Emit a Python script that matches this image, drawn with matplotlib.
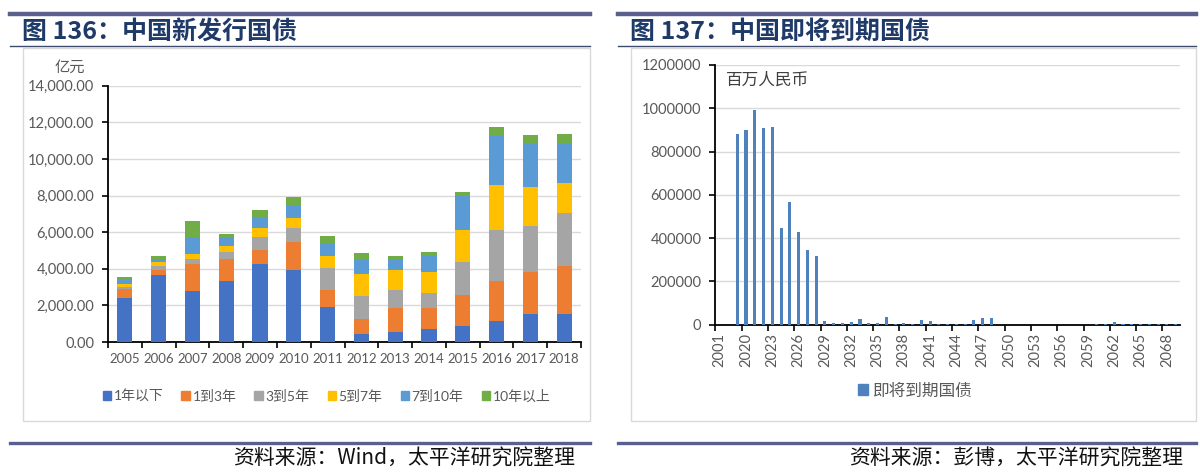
import matplotlib
matplotlib.use("Agg")
import matplotlib.pyplot as plt
from matplotlib.patches import Patch, Rectangle
from matplotlib.lines import Line2D
from matplotlib.ticker import FuncFormatter
import numpy as np

plt.rcParams['font.family'] = ['Lato', 'Noto Sans CJK SC', 'DejaVu Sans']

# ---- left chart data: new issuance by maturity (亿元)
years_l = ['2005', '2006', '2007', '2008', '2009', '2010', '2011',
           '2012', '2013', '2014', '2015', '2016', '2017', '2018']
series_names = ['1年以下', '1到3年', '3到5年', '5到7年', '7到10年', '10年以上']
under_1y = [2400, 3650, 2790, 3340, 4250, 3960, 1890, 440, 530, 710, 890, 1160, 1530, 1530]
y1_3 = [470, 310, 1460, 1180, 800, 1480, 950, 800, 1310, 1150, 1670, 2180, 2310, 2640]
y3_5 = [140, 200, 290, 400, 690, 760, 1180, 1270, 1020, 800, 1820, 2800, 2490, 2850]
y5_7 = [150, 200, 290, 330, 460, 600, 690, 1200, 1070, 1180, 1730, 2420, 2150, 1640]
y7_10 = [220, 180, 910, 490, 600, 680, 620, 800, 580, 910, 1850, 2670, 2400, 2180]
over_10y = [150, 160, 860, 150, 400, 420, 470, 370, 200, 180, 240, 510, 420, 510]
colors_l = ['#4472C4', '#ED7D31', '#A5A5A5', '#FFC000', '#5B9BD5', '#70AD47']

# ---- right chart data: maturing government bonds (百万人民币)
years_r = ['2001', '2018'] + [str(y) for y in range(2019, 2070)]
maturing = [0, 0,
            880000, 900000, 990000, 910000, 915000, 448000, 566000, 428000, 344000, 317000,
            18000, 6000, 9000, 11000, 25000, 5000, 6000, 36000, 4000, 6000,
            1000, 23000, 14000, 4000, 4000, 4000, 3000, 23000, 28000, 32000,
            0, 0, 0, 0, 0, 0, 0, 0, 0, 0, 0,
            2000, 2000, 12000, 4000, 3000, 3000, 2000, 2000, 2000, 1000]

W, H = 1200, 474
fig = plt.figure(figsize=(12, 4.74), dpi=100)

def fx(px):
    return px / W

def fy(py):
    return (H - py) / H

navy = '#1F3A68'
rule = '#5B5F8E'
tick_grey = '#595959'
cjk = ['Noto Sans CJK SC', 'DejaVu Sans']

# ---- page decoration (rules, titles, boxes, sources)
for x0, x1, title, src, sx in [(10, 590, '图 136：中国新发行国债', '资料来源：Wind，太平洋研究院整理', 575),
                               (618, 1196, '图 137：中国即将到期国债', '资料来源：彭博，太平洋研究院整理', 1183)]:
    fig.add_artist(Line2D([fx(x0), fx(x1)], [fy(14), fy(14)], color=rule, lw=3.2))
    fig.add_artist(Line2D([fx(x0), fx(x1)], [fy(46), fy(46)], color='#3E4A6E', lw=1.0))
    fig.add_artist(Line2D([fx(x0), fx(x1)], [fy(443), fy(443)], color=rule, lw=2.4))
    fig.text(fx(x0 + 12), fy(32), title, fontsize=18, fontweight='bold', color=navy,
             family=cjk, va='center', ha='left')
    fig.text(fx(sx), fy(459), src, fontsize=15, color='#111111',
             family=cjk, va='center', ha='right')
    fig.add_artist(Rectangle((fx(x0 + 13), fy(421)), fx(x1 - x0 - 13), fy(48) - fy(421),
                             transform=fig.transFigure, fill=False, ec='#D9D9D9', lw=1.0))

# ---- left chart
ax1 = fig.add_axes([fx(108), fy(342), fx(581 - 108), fy(85.7) - fy(342)])
x = np.arange(len(years_l))
bottom = np.zeros(len(years_l))
for vals, c, name in zip([under_1y, y1_3, y3_5, y5_7, y7_10, over_10y], colors_l, series_names):
    ax1.bar(x, vals, bottom=bottom, width=0.45, color=c, label=name, zorder=3)
    bottom += np.array(vals)
ax1.set_xlim(-0.5, len(years_l) - 0.5)
ax1.set_ylim(0, 14000)
ax1.set_yticks(np.arange(0, 14001, 2000))
ax1.yaxis.set_major_formatter(FuncFormatter(lambda v, p: f'{v:,.2f}'))
ax1.set_xticks(x)
ax1.set_xticklabels(years_l)
ax1.set_xticks(np.arange(-0.5, len(years_l), 1), minor=True)
ax1.tick_params(axis='x', which='major', length=0, pad=8, labelsize=9.5, labelcolor=tick_grey)
ax1.tick_params(axis='x', which='minor', length=4, width=1.2, direction='out', color='black')
ax1.tick_params(axis='y', length=4, width=1.2, direction='out', color='black', labelsize=10.5,
                labelcolor=tick_grey, pad=6)
ax1.grid(axis='y', color='#D9D9D9', lw=1, zorder=0)
for s in ['top', 'right']:
    ax1.spines[s].set_visible(False)
for s in ['left', 'bottom']:
    ax1.spines[s].set_color('black')
    ax1.spines[s].set_linewidth(1.3)
fig.text(fx(70), fy(68), '亿元', fontsize=11, color=tick_grey, ha='center', va='center')

handles = [Patch(color=c) for c in colors_l]
fig.legend(handles, series_names, loc='center left', bbox_to_anchor=(fx(90), fy(396)),
           ncol=6, frameon=False, fontsize=10, handlelength=0.6, handleheight=0.6,
           handletextpad=0.2, columnspacing=1.3, labelcolor=tick_grey)

# ---- right chart
ax2 = fig.add_axes([fx(715.3), fy(324.5), fx(1180 - 715.3), fy(65) - fy(324.5)])
xr = np.arange(len(years_r))
ax2.bar(xr, maturing, width=0.35, color='#4F81BD', zorder=3)
ax2.set_xlim(-0.5, len(years_r) - 0.5)
ax2.set_ylim(0, 1200000)
ax2.set_yticks(np.arange(0, 1200001, 200000))
ax2.yaxis.set_major_formatter(FuncFormatter(lambda v, p: f'{int(v)}'))
ax2.set_xticks(xr[::3])
ax2.set_xticklabels(years_r[::3], rotation=90)
ax2.set_xticks(np.arange(-0.5, len(years_r), 3), minor=True)
ax2.tick_params(axis='x', which='major', length=0, pad=6, labelsize=10.5, labelcolor=tick_grey)
ax2.tick_params(axis='x', which='minor', length=4, width=1.2, direction='out', color='black')
ax2.tick_params(axis='y', length=4, width=1.2, direction='out', color='black', labelsize=10.5,
                labelcolor=tick_grey, pad=6)
ax2.grid(axis='y', color='#D9D9D9', lw=1, zorder=0)
for s in ['top', 'right']:
    ax2.spines[s].set_visible(False)
for s in ['left', 'bottom']:
    ax2.spines[s].set_color('black')
    ax2.spines[s].set_linewidth(1.3)
ax2.text(0.022, 0.94, '百万人民币', transform=ax2.transAxes, fontsize=12, color='#404040',
         family=cjk, va='center', ha='left')
fig.legend([Patch(color='#4F81BD')], ['即将到期国债'], loc='center', bbox_to_anchor=(fx(915), fy(391)),
           frameon=False, handlelength=0.6, handleheight=0.6, handletextpad=0.3,
           labelcolor=tick_grey, prop={'family': cjk, 'size': 12})

fig.savefig('out.png', dpi=100)
